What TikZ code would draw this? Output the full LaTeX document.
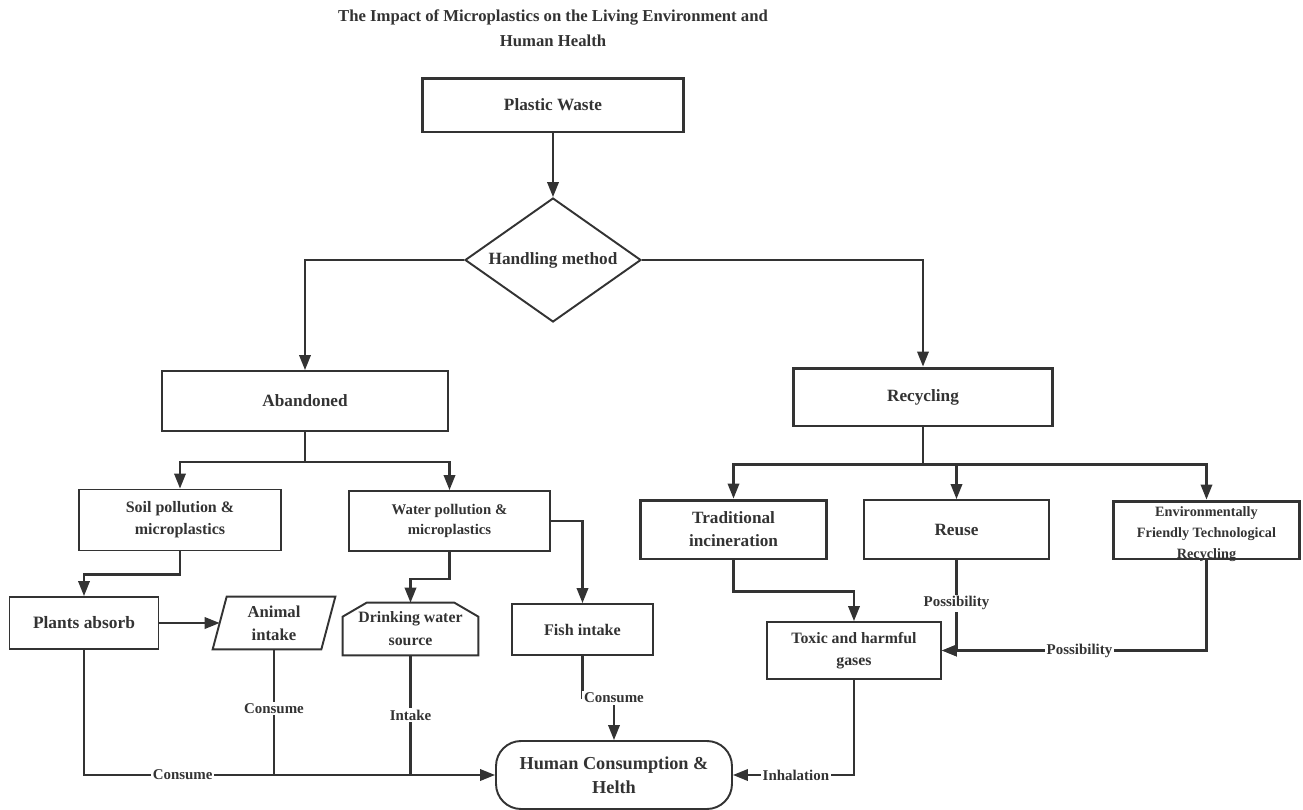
\documentclass[tikz,border=0pt]{standalone}
\usepackage{fontspec}
\setmainfont{Liberation Serif}
\usetikzlibrary{shapes,arrows.meta,positioning,calc}
\definecolor{ink}{HTML}{333333}
\newcommand{\bfsz}[2]{\fontsize{#1}{#2}\selectfont\bfseries}

\begin{document}
\begin{tikzpicture}[x=0.02cm,y=-0.02cm,>={Triangle[length=8.5pt,width=6.5pt]},
  box/.style={draw=ink,line width=1.1pt,text=ink,align=center,inner sep=1pt},
  thickbox/.style={box,line width=1.7pt},
  link/.style={draw=ink,line width=1.2pt},
  lbl/.style={fill=white,text=ink,inner sep=1pt,font=\bfsz{8.5}{10}}]
  \useasboundingbox (0,0) rectangle (1303,809);

  \node[text=ink,align=center,font=\bfsz{9.5}{14.2}] (title) at (553,28)
    {The Impact of Microplastics on the Living Environment and\\Human Health};

  % top of the tree
  \node[thickbox,minimum width=5.24cm,minimum height=1.08cm,font=\bfsz{9.8}{12}] (waste) at (553,105) {Plastic Waste};
  \node[box,diamond,aspect=1.42,minimum width=3.52cm,minimum height=2.48cm,inner sep=0pt,font=\bfsz{9.8}{12}] (handle) at (553,260) {Handling method};
  \node[box,minimum width=5.72cm,minimum height=1.2cm,font=\bfsz{9.8}{12}] (aband) at (305,401) {Abandoned};
  \node[thickbox,minimum width=5.2cm,minimum height=1.16cm,font=\bfsz{9.8}{12}] (recyc) at (923,397) {Recycling};

  % abandoned side
  \node[box,minimum width=4.04cm,minimum height=1.22cm,font=\bfsz{9.1}{12.5}] (soil) at (180,520) {Soil pollution \&\\microplastics};
  \node[box,minimum width=4.02cm,minimum height=1.2cm,font=\bfsz{8.4}{11.4}] (water) at (449.5,521) {Water pollution \&\\microplastics};
  \node[box,minimum width=2.98cm,minimum height=1.04cm,font=\bfsz{9.9}{12}] (plants) at (84,623) {Plants absorb};
  \node[text=ink,align=center,minimum width=2.16cm,minimum height=1.04cm,inner sep=0pt,font=\bfsz{9.5}{13}] (animal) at (274,623) {Animal\\intake};
  \draw[link,line width=1.1pt] ($(animal.south west)+(-7,0)$) -- ($(animal.north west)+(7,0)$)
    -- ($(animal.north east)+(7,0)$) -- ($(animal.south east)+(-7,0)$) -- cycle;
  \node[text=ink,align=center,minimum width=2.7cm,minimum height=1.04cm,inner sep=0pt,font=\bfsz{9}{13}] (drink) at (410.5,629) {Drinking water\\source};
  \draw[link,line width=1.1pt] (drink.south west) -- ($(drink.north west)+(0,14)$) -- ($(drink.north west)+(24,0)$)
    -- ($(drink.north east)+(-24,0)$) -- ($(drink.north east)+(0,14)$) -- (drink.south east) -- cycle;
  \node[box,minimum width=2.82cm,minimum height=1.02cm,font=\bfsz{9.2}{12}] (fish) at (582.5,629.5) {Fish intake};
  \node[box,rounded corners=0.5cm,minimum width=4.72cm,minimum height=1.36cm,font=\bfsz{10.4}{13.6}] (human) at (614,775) {Human Consumption \&\\Helth};

  % recycling side
  \node[thickbox,minimum width=3.74cm,minimum height=1.18cm,font=\bfsz{9.8}{13}] (trad) at (733.5,529.5) {Traditional\\incineration};
  \node[box,minimum width=3.7cm,minimum height=1.18cm,font=\bfsz{9.8}{12}] (reuse) at (956.5,529.5) {Reuse};
  \node[thickbox,minimum width=3.74cm,minimum height=1.16cm] (env) at (1206.5,530) {};
  \node[text=ink,align=center,font=\bfsz{8.1}{11.9}] (envtext) at (1206.5,534) {Environmentally\\Friendly Technological\\Recycling};
  \node[box,minimum width=3.48cm,minimum height=1.14cm,font=\bfsz{9}{12.5}] (toxic) at (854,650.5) {Toxic and harmful\\gases};

  % connectors
  \draw[link,->] (waste.south) -- (handle.north);
  \draw[link,->] (handle.west) -| (aband.north);
  \draw[link,->] (handle.east) -| (recyc.north);
  \draw[link,->] (aband.south) -- ++(0,30) -| (soil.north);
  \draw[link,->] (aband.south) -- ++(0,30) -| (water.north);
  \draw[link,->] (soil.south) -- ++(0,23) -| (plants.north);
  \draw[link,->] (plants.east) -- (animal.west);
  \draw[link,->] (water.south) -- ++(0,27) -| (drink.north);
  \draw[link,->] (water.east) -| (fish.north);
  \draw[link,->] (fish.south) |- ($(human.north)+(0,-42)$) node[lbl] {Consume} -- (human.north);
  \draw[link,->] (plants.south) |- node[lbl,pos=0.62] {Consume} (human.west);
  \draw[link] (animal.south) -- node[lbl,pos=0.47] {Consume} (animal.south |- human.west);
  \draw[link] (drink.south) -- node[lbl] {Intake} (drink.south |- human.west);

  \draw[link,->] (recyc.south) -- ++(0,37) -| (trad.north);
  \draw[link,->] (recyc.south) -- ++(0,37) -| (reuse.north);
  \draw[link,->] (recyc.south) -- ++(0,37) -| (env.north);
  \draw[link,->] (trad.south) -- ++(0,31) -| (toxic.north);
  \draw[link,->] (reuse.south) |- node[lbl,pos=0.24] {Possibility} (toxic.east);
  \draw[link,->] (env.south) |- node[lbl,pos=0.74] {Possibility} (toxic.east);
  \draw[link,->] (toxic.south) |- node[lbl,pos=0.74] {Inhalation} (human.east);
\end{tikzpicture}
\end{document}
